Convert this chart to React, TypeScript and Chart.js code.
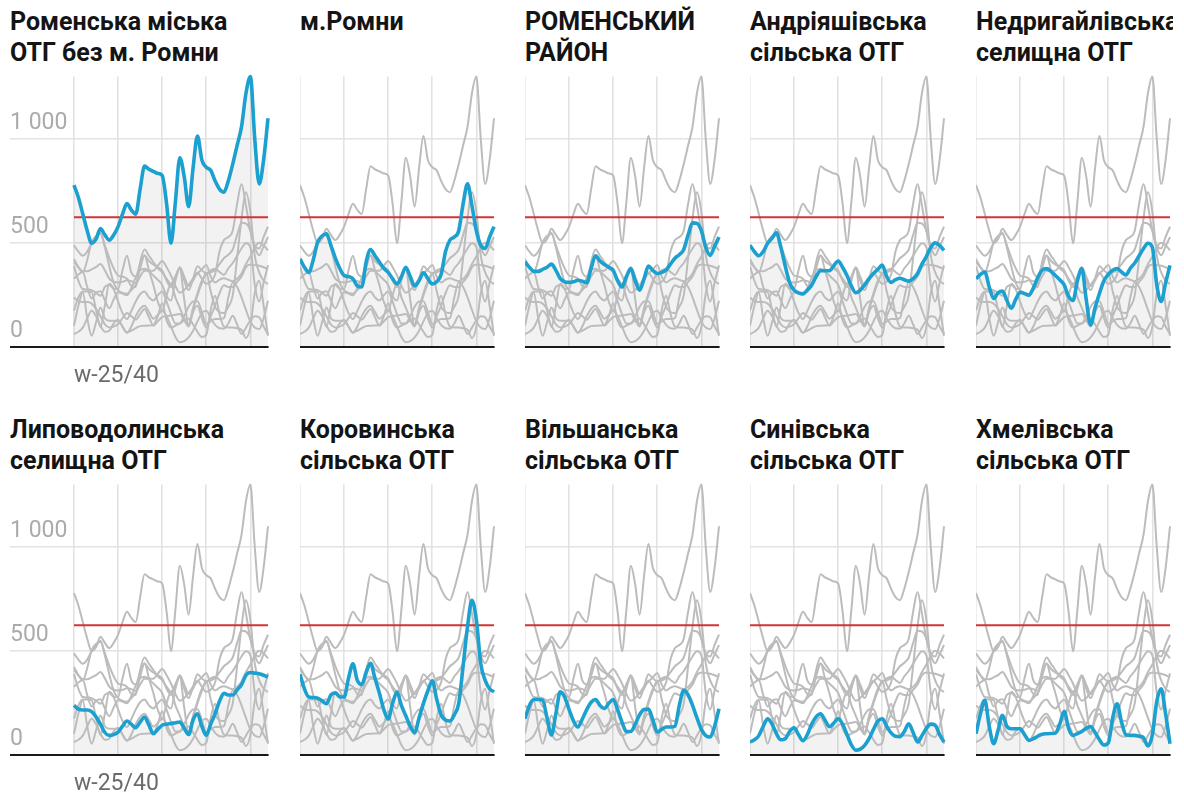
import React, { useEffect, useRef } from 'react';
import { Chart, registerables } from 'chart.js';

Chart.register(...registerables);
Chart.defaults.font.family = 'Roboto';

const TITLES: string[] = [
  'Роменська міська\nОТГ без м. Ромни',
  'м.Ромни',
  'РОМЕНСЬКИЙ\nРАЙОН',
  'Андріяшівська\nсільська ОТГ',
  'Недригайлівська\nселищна ОТГ',
  'Липоводолинська\nселищна ОТГ',
  'Коровинська\nсільська ОТГ',
  'Вільшанська\nсільська ОТГ',
  'Синівська\nсільська ОТГ',
  'Хмелівська\nсільська ОТГ',
];

const ROMENSKA_OTG = [779, 720, 640, 560, 500, 520, 570, 540, 515, 540, 580, 640, 690, 660, 640, 760, 870, 855, 845, 835, 825, 690, 500, 700, 910, 820, 675, 860, 1015, 900, 865, 850, 800, 760, 745, 800, 880, 970, 1060, 1220, 1300, 1000, 785, 900, 1100];
const ROMNY = [425, 385, 360, 420, 505, 535, 545, 490, 430, 380, 345, 340, 330, 295, 290, 410, 470, 440, 410, 380, 360, 330, 305, 340, 385, 340, 295, 320, 358, 330, 305, 315, 350, 460, 515, 530, 560, 690, 785, 680, 560, 490, 475, 530, 580];
const ROMENSKYI_RAION = [410, 385, 365, 365, 375, 385, 400, 370, 330, 315, 312, 315, 322, 318, 310, 380, 440, 415, 398, 385, 370, 320, 290, 340, 378, 320, 275, 330, 390, 370, 355, 360, 372, 400, 428, 445, 470, 540, 598, 595, 560, 480, 442, 485, 530];
const ANDRIIASHIVSKA = [490, 460, 440, 460, 500, 525, 550, 480, 390, 310, 275, 262, 258, 275, 300, 340, 368, 368, 368, 392, 415, 385, 345, 295, 262, 275, 300, 330, 355, 375, 395, 340, 312, 325, 332, 325, 318, 330, 355, 400, 436, 480, 502, 490, 466];
const NEDRYHAILIVSKA = [330, 350, 362, 290, 235, 262, 270, 225, 188, 230, 265, 258, 250, 285, 335, 370, 378, 365, 345, 325, 300, 245, 225, 320, 378, 230, 108, 190, 260, 320, 350, 370, 378, 362, 348, 380, 405, 440, 475, 500, 480, 300, 220, 310, 394];
const LYPOVODOLYNSKA = [240, 222, 218, 218, 210, 185, 150, 110, 96, 100, 112, 140, 165, 150, 133, 160, 184, 145, 104, 125, 145, 150, 153, 157, 160, 130, 100, 170, 200, 140, 96, 150, 200, 260, 298, 290, 290, 315, 340, 385, 398, 395, 392, 385, 376];
const KOROVYNSKA = [390, 320, 280, 278, 275, 262, 248, 290, 300, 282, 280, 370, 440, 360, 340, 400, 442, 370, 300, 220, 175, 250, 304, 240, 190, 140, 110, 180, 250, 310, 358, 270, 195, 170, 165, 195, 250, 430, 620, 745, 650, 440, 360, 320, 305];
const VILSHANSKA = [176, 240, 268, 268, 265, 180, 98, 200, 305, 280, 220, 165, 136, 175, 220, 255, 268, 240, 225, 250, 268, 220, 160, 115, 115, 150, 195, 220, 222, 170, 112, 125, 136, 136, 140, 240, 312, 290, 240, 180, 125, 95, 88, 140, 224];
const SYNIVSKA = [64, 75, 95, 140, 176, 150, 104, 75, 80, 115, 133, 100, 70, 100, 150, 185, 200, 170, 138, 155, 176, 150, 100, 50, 25, 30, 48, 80, 125, 165, 176, 140, 108, 92, 90, 115, 152, 110, 64, 95, 130, 150, 145, 100, 64];
const KHMELIVSKA = [104, 200, 264, 140, 56, 120, 192, 140, 128, 128, 128, 100, 72, 80, 92, 102, 104, 105, 107, 150, 212, 130, 96, 105, 115, 130, 139, 110, 75, 50, 60, 180, 248, 160, 100, 96, 96, 92, 85, 45, 100, 260, 320, 200, 56];

const SERIES: number[][] = [
  ROMENSKA_OTG, ROMNY, ROMENSKYI_RAION, ANDRIIASHIVSKA, NEDRYHAILIVSKA,
  LYPOVODOLYNSKA, KOROVYNSKA, VILSHANSKA, SYNIVSKA, KHMELIVSKA,
];

const THRESHOLD = 625;
const Y_TICKS = [0, 500, 1000];
const Y_TICK_LABELS = ['0', '500', '1 000'];
const X_TICKS = [0, 10, 20, 30, 40];
const X_FIRST_LABEL = 'w-25/40';
const Y_MAX = 1300;

const BLUE = '#1ba0cf';
const GREY = '#bcbcbc';
const RED = '#d23434';
const GRID = '#e2e2e2';

const DATA_W = 194;
const COL_LEFTS = [74, 300, 525, 750, 976];
const ROW_SHIFT = 408;

function Panel({ idx }: { idx: number }) {
  const ref = useRef<HTMLCanvasElement | null>(null);
  const col = idx % 5;
  const row = Math.floor(idx / 5);
  const first = col === 0;
  const areaLeft = first ? 10 : COL_LEFTS[col];
  const areaW = first ? COL_LEFTS[0] + DATA_W - 10 : DATA_W;
  const canvasW = areaW + 5;
  const canvasH = 330;
  const top = 60 + row * ROW_SHIFT;
  const n = SERIES[idx].length;
  const xMax = n - 1;
  const xMin = first ? -((COL_LEFTS[0] - 10) / DATA_W) * xMax : 0;

  useEffect(() => {
    const canvas = ref.current;
    if (!canvas) return;
    const toPts = (arr: number[]) => arr.map((v, i) => ({ x: i, y: v }));
    const greys = SERIES.map((s, i) => ({ s, i }))
      .filter((o) => o.i !== idx)
      .map((o) => ({
        data: toPts(o.s),
        borderColor: GREY,
        borderWidth: 2,
        pointRadius: 0,
        fill: false,
        cubicInterpolationMode: 'monotone' as const,
        clip: false as any,
      }));
    const chart = new Chart(canvas, {
      type: 'line',
      data: {
        datasets: [
          {
            data: toPts(SERIES[idx]),
            borderColor: BLUE,
            borderWidth: 3.6,
            pointRadius: 0,
            fill: 'origin',
            backgroundColor: 'rgba(0,0,0,0.05)',
            cubicInterpolationMode: 'monotone',
            clip: false as any,
          },
          {
            data: toPts(SERIES[idx].map(() => THRESHOLD)),
            borderColor: RED,
            borderWidth: 2,
            pointRadius: 0,
            fill: false,
          },
          ...greys,
        ] as any,
      },
      options: {
        animation: false,
        responsive: false,
        devicePixelRatio: 1,
        events: [],
        layout: { padding: { top: 16.6, right: 5, left: 0, bottom: 0 } },
        plugins: {
          legend: { display: false },
          tooltip: { enabled: false },
          filler: { drawTime: 'beforeDatasetsDraw' },
        } as any,
        scales: {
          x: {
            type: 'linear',
            min: xMin,
            max: xMax,
            afterBuildTicks: (s: any) => {
              s.ticks = X_TICKS.map((v) => ({ value: v }));
            },
            grid: {
              color: GRID,
              lineWidth: 1.6,
              drawTicks: true,
              tickLength: 15,
              tickColor: 'rgba(0,0,0,0)',
            },
            border: { display: true, color: '#1a1a1a', width: 2 },
            ticks: {
              display: true,
              align: 'start',
              padding: 0,
              maxRotation: 0,
              autoSkip: false,
              color: '#6b6b6b',
              font: { family: 'Roboto', size: 23 },
              callback: (v: any) => (first && v === 0 ? X_FIRST_LABEL : ''),
            },
          },
          y: {
            type: 'linear',
            min: 0,
            max: Y_MAX,
            afterBuildTicks: (s: any) => {
              s.ticks = Y_TICKS.map((v) => ({ value: v }));
            },
            grid: {
              color: (c: any) => (c.tick && c.tick.value === 0 ? 'rgba(0,0,0,0)' : GRID),
              lineWidth: 1.6,
              drawTicks: false,
            },
            border: { display: false },
            ticks: {
              display: first,
              mirror: true,
              padding: 0,
              labelOffset: -16,
              color: '#ababab',
              font: { family: 'Roboto', size: 23 },
              callback: (v: any) => {
                const k = Y_TICKS.indexOf(v);
                return k >= 0 ? Y_TICK_LABELS[k] : '';
              },
            },
          },
        },
      } as any,
    });
    return () => chart.destroy();
  }, [idx]);

  const titleW = first ? areaW : DATA_W + 3;
  return (
    <>
      <div
        style={{
          position: 'absolute',
          left: areaLeft,
          top: 6 + row * ROW_SHIFT,
          width: titleW,
          overflow: 'hidden',
          whiteSpace: 'pre',
          fontFamily: 'Roboto',
          fontWeight: 700,
          fontSize: 25,
          lineHeight: '31px',
          color: '#141414',
        }}
      >
        {TITLES[idx]}
      </div>
      <canvas
        ref={ref}
        width={canvasW}
        height={canvasH}
        style={{ position: 'absolute', left: areaLeft, top, width: canvasW, height: canvasH }}
      />
    </>
  );
}

export default function App() {
  return (
    <div
      style={{
        position: 'fixed',
        left: 0,
        top: 0,
        width: 1184,
        height: 792,
        background: '#ffffff',
        overflow: 'hidden',
      }}
    >
      {SERIES.map((_, i) => (
        <Panel key={i} idx={i} />
      ))}
    </div>
  );
}
